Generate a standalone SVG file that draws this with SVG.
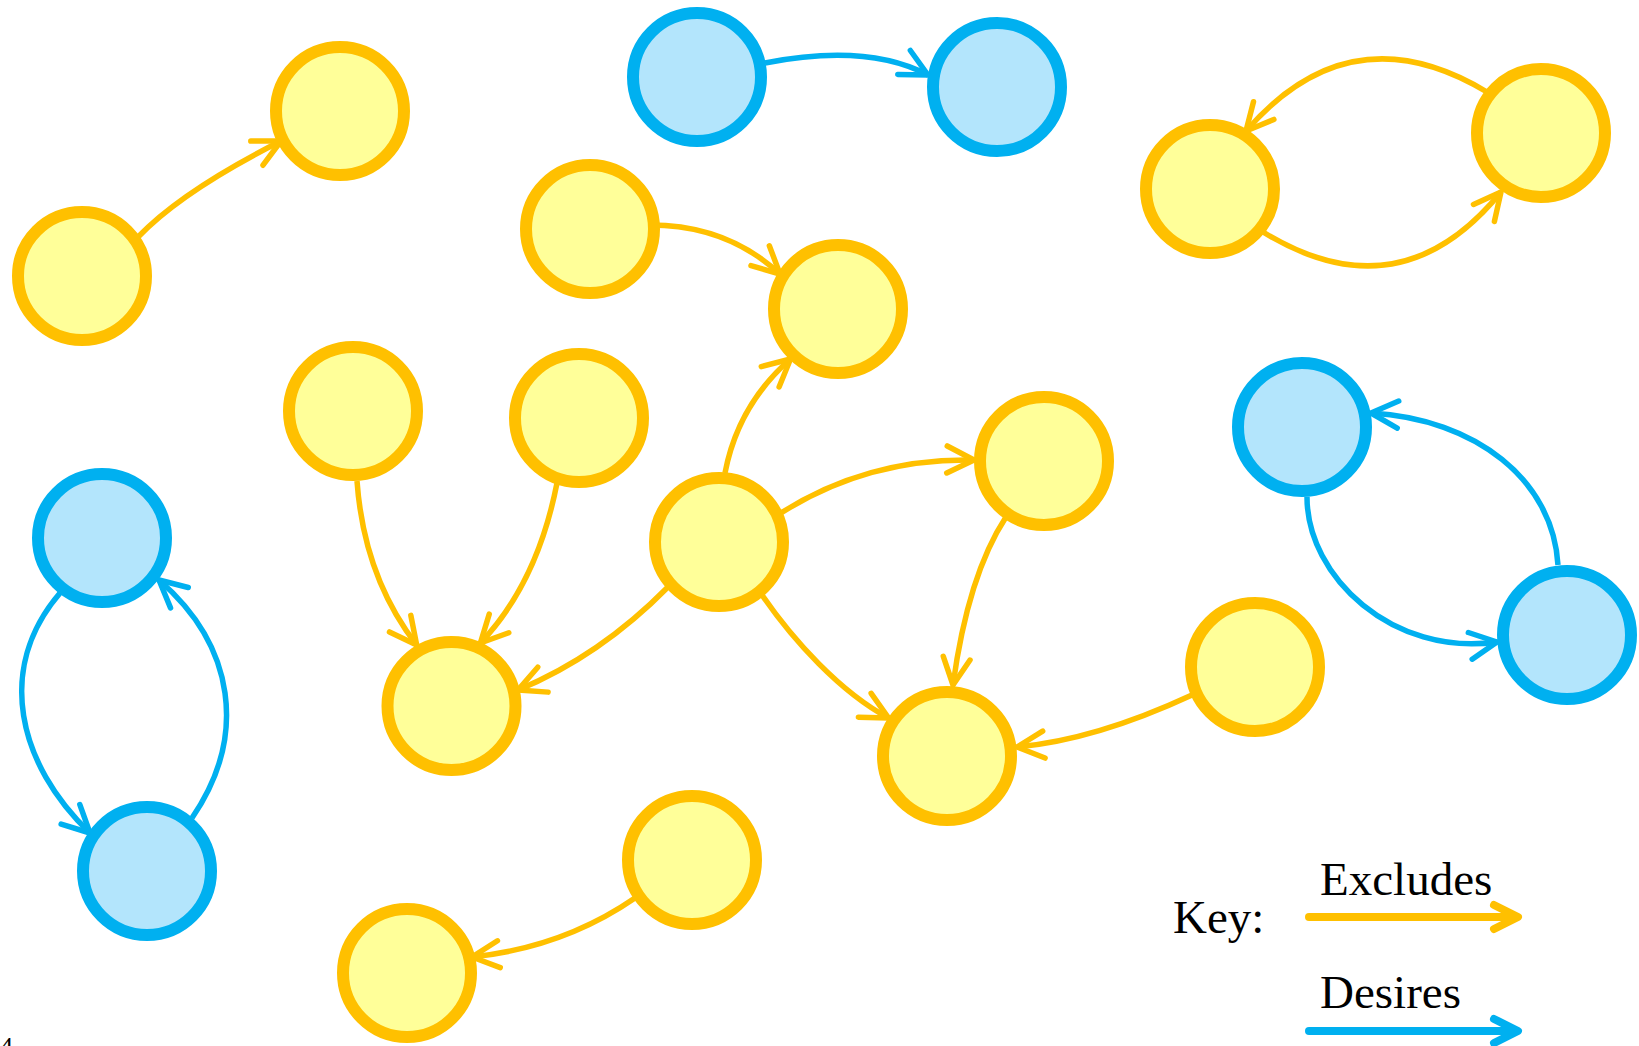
<svg xmlns="http://www.w3.org/2000/svg" width="1639" height="1046" viewBox="0 0 1639 1046">
  <style>
    .y circle { fill: #FFFF99; stroke: #FFC000; stroke-width: 12; }
    .b circle { fill: #B3E5FC; stroke: #00B0F0; stroke-width: 12; }
    .ey { fill: none; stroke: #FFC000; stroke-width: 5.5; marker-end: url(#headY); }
    .eb { fill: none; stroke: #00B0F0; stroke-width: 5.5; marker-end: url(#headB); }
    .key { fill: none; stroke-width: 8; stroke-linecap: round; stroke-linejoin: round; }
    text { font-family: "Liberation Serif", "Times New Roman", serif; fill: #000; }
  </style>
  <defs>
    <marker id="headY" markerUnits="userSpaceOnUse" viewBox="-32 -20 40 40" refX="0" refY="0" markerWidth="40" markerHeight="40" orient="auto" overflow="visible">
      <path d="M-27,-13.5 L0,0 L-27,13.5" fill="none" stroke="#FFC000" stroke-width="5.5" stroke-linecap="round" stroke-linejoin="round"/>
    </marker>
    <marker id="headB" markerUnits="userSpaceOnUse" viewBox="-32 -20 40 40" refX="0" refY="0" markerWidth="40" markerHeight="40" orient="auto" overflow="visible">
      <path d="M-27,-13.5 L0,0 L-27,13.5" fill="none" stroke="#00B0F0" stroke-width="5.5" stroke-linecap="round" stroke-linejoin="round"/>
    </marker>
  </defs>

  <!-- nodes -->
  <g id="nA" class="y"><circle cx="82" cy="276" r="64"/></g>
  <g id="nB" class="y"><circle cx="340" cy="111" r="64"/></g>
  <g id="nC" class="b"><circle cx="697" cy="77" r="64"/></g>
  <g id="nD" class="b"><circle cx="997" cy="87" r="64"/></g>
  <g id="nE" class="y"><circle cx="1210" cy="189" r="64"/></g>
  <g id="nF" class="y"><circle cx="1541" cy="133" r="64"/></g>
  <g id="nG" class="y"><circle cx="590" cy="229" r="64"/></g>
  <g id="nH" class="y"><circle cx="838" cy="309" r="64"/></g>
  <g id="nI" class="y"><circle cx="353" cy="411" r="64"/></g>
  <g id="nJ" class="y"><circle cx="579" cy="418" r="64"/></g>
  <g id="nK" class="b"><circle cx="102" cy="538" r="64"/></g>
  <g id="nL" class="y"><circle cx="719" cy="542" r="64"/></g>
  <g id="nM" class="y"><circle cx="1044" cy="461" r="64"/></g>
  <g id="nN" class="b"><circle cx="1302" cy="427" r="64"/></g>
  <g id="nO" class="b"><circle cx="1567" cy="635" r="64"/></g>
  <g id="nP" class="y"><circle cx="451.5" cy="706" r="64"/></g>
  <g id="nQ" class="y"><circle cx="947" cy="756" r="64"/></g>
  <g id="nR" class="y"><circle cx="1255" cy="667" r="64"/></g>
  <g id="nS" class="b"><circle cx="147" cy="871" r="64"/></g>
  <g id="nT" class="y"><circle cx="692" cy="860" r="64"/></g>
  <g id="nU" class="y"><circle cx="407" cy="973" r="64"/></g>

  <!-- connectors -->
  <g id="connectors">
    <path class="ey" d="M138,237 Q182,191 281,141"/>
    <path class="eb" d="M765,63 Q867,43 928,75"/>
    <path class="ey" d="M1487,92 Q1351,10 1246,131"/>
    <path class="ey" d="M1263,232 Q1400,316 1501,192"/>
    <path class="ey" d="M650,225 Q727,225 780,274"/>
    <path class="ey" d="M725,473 Q738,405 790.5,359"/>
    <path class="ey" d="M781,513 Q867,458 974,460"/>
    <path class="ey" d="M1006,517 Q968,575 953,685"/>
    <path class="ey" d="M762,595 C793,640 840,692 888.6,718"/>
    <path class="ey" d="M1192,695 Q1095,740 1017,747"/>
    <path class="ey" d="M357,481 Q364,577 416.7,645"/>
    <path class="ey" d="M557,483 Q537.5,583 480.4,643"/>
    <path class="ey" d="M668,587 Q600,656 518,690"/>
    <path class="eb" d="M60,593 C-5,669 18,764 90,833"/>
    <path class="eb" d="M192,818 C248,736 235,646 159,580"/>
    <path class="eb" d="M1558,565 C1553,480 1476,419 1371,413"/>
    <path class="eb" d="M1307,497 C1307,577 1393,657 1497,642"/>
    <path class="ey" d="M635,898 Q563,947.5 472,957"/>
  </g>

  <!-- key -->
  <g id="legend">
    <text x="1173" y="933" font-size="47">Key:</text>
    <text x="1320" y="895" font-size="47">Excludes</text>
    <text x="1320" y="1008" font-size="47">Desires</text>
    <path class="key" stroke="#FFC000" stroke-linecap="butt" d="M1309,917 H1516"/>
    <path class="key" stroke="#FFC000" d="M1494,905 L1518,917 L1494,929"/>
    <path class="key" stroke="#00B0F0" stroke-linecap="butt" d="M1309,1031 H1516"/>
    <path class="key" stroke="#00B0F0" d="M1494,1019 L1518,1031 L1494,1043"/>
  </g>

  <text x="0" y="1055" font-size="26">4</text>
</svg>
